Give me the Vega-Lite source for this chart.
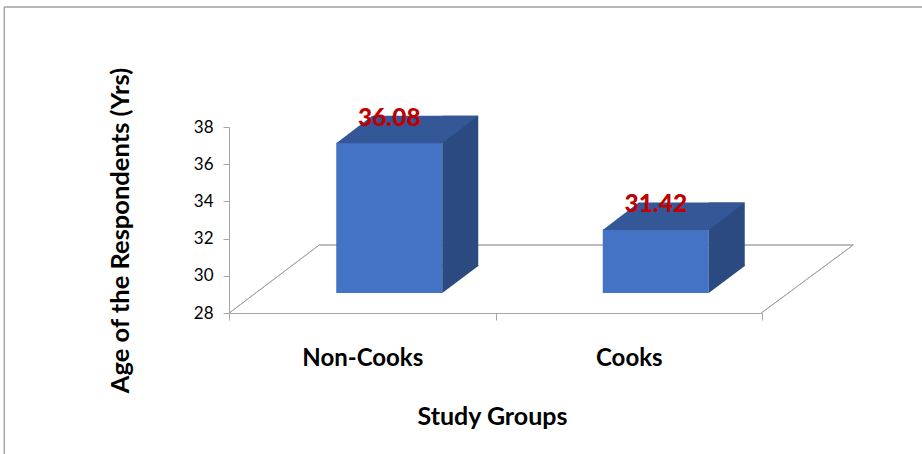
{
  "$schema": "https://vega.github.io/schema/vega-lite/v6.json",
  "width": 533,
  "height": 186,
  "autosize": {"type": "none"},
  "padding": {"left": 229, "top": 127, "right": 160, "bottom": 141},
  "background": "white",
  "config": {"view": {"stroke": null}, "font": "Lato"},
  "data": {"values": [
    {"group": "Non-Cooks", "age": 36.08},
    {"group": "Cooks", "age": 31.42}
  ]},
  "encoding": {
    "x": {
      "field": "group", "type": "nominal", "sort": null,
      "scale": {"paddingInner": 0, "paddingOuter": 0},
      "axis": {
        "title": "Study Groups", "labelAngle": 0, "tickBand": "extent",
        "domainColor": "#A6A6A6", "tickColor": "#A6A6A6", "tickSize": 7,
        "labelFont": "Lato", "labelFontSize": 24, "labelFontWeight": "bold", "labelColor": "#000000",
        "labelBaseline": "alphabetic", "labelPadding": 45,
        "titleFont": "Lato", "titleFontSize": 25, "titleFontWeight": "bold", "titleColor": "#000000",
        "titleBaseline": "alphabetic", "titleY": 111, "titleX": 263
      }
    },
    "y": {
      "field": "age", "type": "quantitative",
      "scale": {"domain": [28, 38], "nice": false, "zero": false},
      "axis": {
        "title": "Age of the Respondents (Yrs)", "values": [28, 30, 32, 34, 36, 38], "grid": false,
        "domainColor": "#A6A6A6", "tickColor": "#A6A6A6", "tickSize": 6,
        "labelFont": "Lato", "labelFontSize": 17, "labelColor": "#000000", "labelPadding": 10,
        "titleFont": "Lato", "titleFontSize": 25.5, "titleFontWeight": "bold", "titleColor": "#000000",
        "titleAngle": -90, "titleBaseline": "alphabetic", "titleAlign": "center", "titleX": -101, "titleY": 103
      }
    }
  },
  "layer": [
    {
      "mark": {"type": "point", "shape": "M-358,400L-358,-120L700,-120", "size": 4, "filled": false, "color": "#A0A0A0", "strokeWidth": 1, "opacity": 1},
      "encoding": {"x": {"datum": "Non-Cooks"}, "y": {"datum": 38}}
    },
    {
      "mark": {"type": "point", "shape": "M-133,0L-43,-68L491,-68L399,0", "size": 4, "filled": false, "color": "#A6A6A6", "strokeWidth": 1, "opacity": 1},
      "encoding": {"x": {"datum": "Non-Cooks"}, "y": {"datum": 28}}
    },
    {
      "mark": {"type": "bar", "width": 106, "xOffset": 27, "yOffset": -20, "y2Offset": -20, "color": "#4472C4"},
      "encoding": {"y2": {"datum": 28}}
    },
    {
      "mark": {"type": "bar", "width": 36, "xOffset": 98, "yOffset": -47, "y2Offset": -47, "color": "#2B4A80"},
      "encoding": {"y2": {"datum": 28}}
    },
    {
      "mark": {"type": "point", "shape": "M53,0L53,-28L89,-28L89,-27Z", "size": 4, "filled": true, "color": "#2B4A80", "strokeWidth": 0, "opacity": 1, "xOffset": 27, "yOffset": -20},
      "encoding": {"y": {"datum": 28}}
    },
    {
      "mark": {"type": "point", "shape": "M-53,0.5L53,0.5L89,-27L-17,-27Z", "size": 4, "filled": true, "color": "#335797", "strokeWidth": 0, "opacity": 1, "xOffset": 27, "yOffset": -20}
    },
    {
      "mark": {"type": "text", "font": "Lato", "fontSize": 24.5, "fontWeight": 900, "color": "#C00000", "baseline": "middle", "align": "center", "xOffset": 27, "yOffset": -44},
      "encoding": {"text": {"field": "age", "type": "quantitative", "format": ".2f"}}
    }
  ]
}
